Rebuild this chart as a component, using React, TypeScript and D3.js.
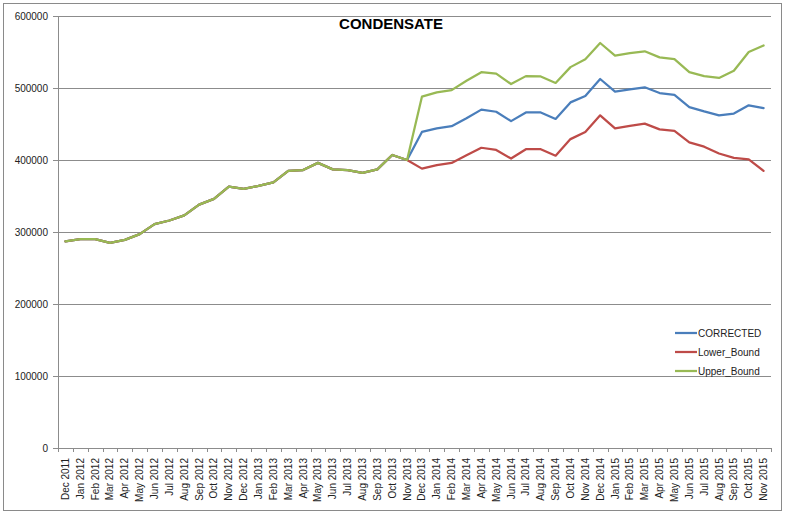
import React from "react";
import * as d3 from "d3";

const months = [
  "Dec 2011","Jan 2012","Feb 2012","Mar 2012","Apr 2012","May 2012","Jun 2012","Jul 2012","Aug 2012","Sep 2012","Oct 2012","Nov 2012",
  "Dec 2012","Jan 2013","Feb 2013","Mar 2013","Apr 2013","May 2013","Jun 2013","Jul 2013","Aug 2013","Sep 2013","Oct 2013","Nov 2013",
  "Dec 2013","Jan 2014","Feb 2014","Mar 2014","Apr 2014","May 2014","Jun 2014","Jul 2014","Aug 2014","Sep 2014","Oct 2014","Nov 2014",
  "Dec 2014","Jan 2015","Feb 2015","Mar 2015","Apr 2015","May 2015","Jun 2015","Jul 2015","Aug 2015","Sep 2015","Oct 2015","Nov 2015",
];

const corrected = [
  287000, 290000, 290000, 285000, 289000, 297000, 311000, 316000, 323000, 338000, 346000, 363000,
  360000, 364000, 369000, 385000, 386000, 396000, 387000, 386000, 382000, 387000, 407000, 400000,
  439000, 444000, 447000, 458000, 470000, 467000, 454000, 466000, 466000, 457000, 480000, 489000,
  512500, 495000, 498000, 501000, 493000, 490500, 473500, 467500, 462000, 464500, 476000, 472000,
];

const lowerBound = [
  287000, 290000, 290000, 285000, 289000, 297000, 311000, 316000, 323000, 338000, 346000, 363000,
  360000, 364000, 369000, 385000, 386000, 396000, 387000, 386000, 382000, 387000, 407000, 400000,
  388000, 393000, 396000, 406500, 417000, 414000, 402000, 415000, 415000, 406000, 429000, 439000,
  462000, 444000, 447500, 450500, 442500, 440500, 424500, 418500, 409000, 403000, 401000, 385000,
];

const upperBound = [
  287000, 290000, 290000, 285000, 289000, 297000, 311000, 316000, 323000, 338000, 346000, 363000,
  360000, 364000, 369000, 385000, 386000, 396000, 387000, 386000, 382000, 387000, 407000, 400000,
  488000, 494000, 497000, 510000, 522000, 520000, 505500, 516500, 516000, 507000, 529000, 540000,
  562500, 545000, 548500, 551000, 542500, 540000, 522000, 516500, 514000, 524000, 550000, 559000,
];

const yTicks = [0, 100000, 200000, 300000, 400000, 500000, 600000];

const seriesNames = ["CORRECTED", "Lower_Bound", "Upper_Bound"];
const seriesColors = ["#4A7EBB", "#BE4B48", "#98B954"];

const W = 785;
const H = 516;
const left = 58;
const right = 771;
const top = 16;
const bottom = 448;

export default function App() {
  const x = d3.scalePoint<string>().domain(months).range([left, right]).padding(0.5);
  const step = x.step();
  const y = d3.scaleLinear().domain([0, 600000]).range([bottom, top]);
  const line = d3
    .line<number>()
    .x((_, i) => x(months[i]) as number)
    .y((d) => y(d));
  const allSeries = [corrected, lowerBound, upperBound];
  const font = "'Liberation Sans', Arial, sans-serif";

  return (
    <svg
      width={W}
      height={H}
      style={{ position: "absolute", left: 0, top: 0, display: "block" }}
      fontFamily={font}
    >
      <rect x={0} y={0} width={W} height={H} fill="#fff" />
      <rect x={3.5} y={3.5} width={778} height={507} fill="#fff" stroke="#8a8a8a" strokeWidth={1} />

      {/* gridlines */}
      {yTicks.map((t) => (
        <line key={"g" + t} x1={left} x2={right} y1={Math.round(y(t)) + 0.5} y2={Math.round(y(t)) + 0.5} stroke="#8c8c8c" strokeWidth={1} />
      ))}

      {/* y axis */}
      <line x1={left + 0.5} x2={left + 0.5} y1={top} y2={bottom + 0.5} stroke="#8c8c8c" />
      {yTicks.map((t) => (
        <g key={"yt" + t}>
          <line x1={left - 5} x2={left} y1={Math.round(y(t)) + 0.5} y2={Math.round(y(t)) + 0.5} stroke="#8c8c8c" />
          <text x={48} y={y(t) + 3.5} textAnchor="end" fontSize={10} fill="#222">
            {t}
          </text>
        </g>
      ))}

      {/* x axis ticks */}
      {d3.range(months.length + 1).map((i) => {
        const xx = Math.round(left + i * step) + 0.5;
        return <line key={"xt" + i} x1={xx} x2={xx} y1={bottom} y2={bottom + 4} stroke="#8c8c8c" />;
      })}
      {months.map((m) => {
        const xx = (x(m) as number) + 3.5;
        return (
          <text key={m} transform={`translate(${xx},${458}) rotate(-90)`} textAnchor="end" fontSize={10} fill="#222">
            {m}
          </text>
        );
      })}

      {/* series */}
      {allSeries.map((s, k) => (
        <path
          key={seriesNames[k]}
          d={line(s) as string}
          fill="none"
          stroke={seriesColors[k]}
          strokeWidth={2.25}
          strokeLinejoin="round"
          strokeLinecap="round"
        />
      ))}

      {/* title */}
      <text x={391} y={29} textAnchor="middle" fontSize={15} fontWeight="bold" fill="#000">
        CONDENSATE
      </text>

      {/* legend */}
      {seriesNames.map((n, k) => {
        const ly = 333 + k * 19;
        return (
          <g key={"lg" + n}>
            <line x1={675} x2={697} y1={ly} y2={ly} stroke={seriesColors[k]} strokeWidth={2.25} />
            <text x={698} y={ly + 4} fontSize={10} fill="#222">
              {n}
            </text>
          </g>
        );
      })}
    </svg>
  );
}
